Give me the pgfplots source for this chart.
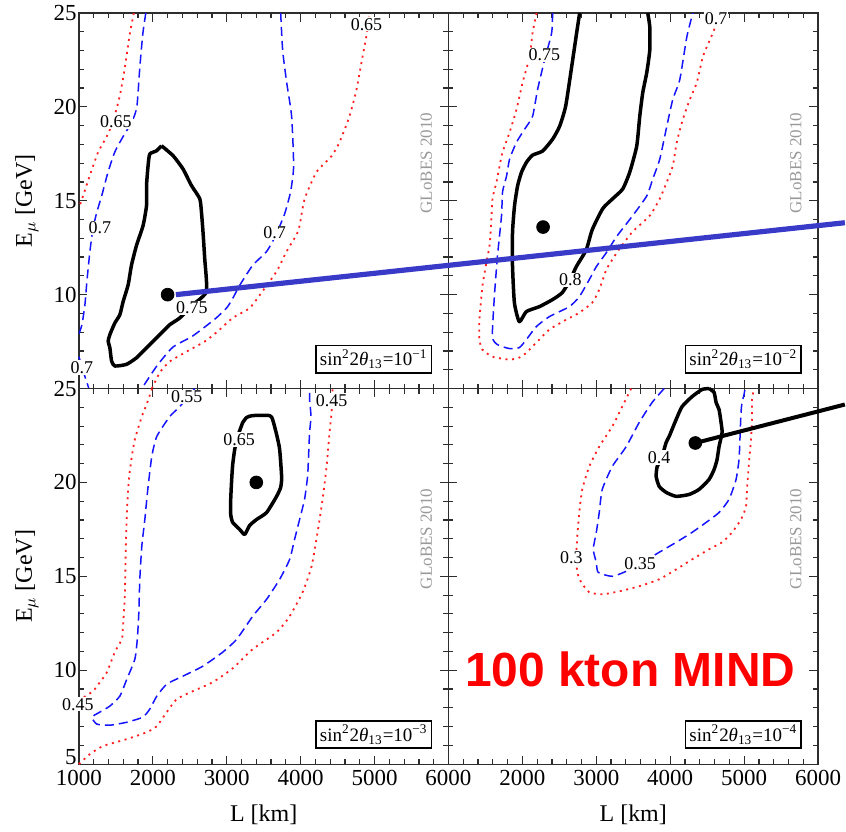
\documentclass[border=0pt]{standalone}
\usepackage{fontspec}
\setmainfont{Liberation Serif}
\setsansfont{Liberation Sans}
\usepackage{pgfplots}
\pgfplotsset{compat=1.18}
\definecolor{annblue}{RGB}{58,58,200}
\definecolor{cblue}{RGB}{20,20,255}
\definecolor{cred}{RGB}{255,30,30}
\definecolor{framecol}{RGB}{45,45,45}
\pgfplotsset{
 panel/.style={
  scale only axis, width=185pt, height=188pt,
  xmin=1000, xmax=6000, ymin=5, ymax=25,
  clip=false,
  xtick={1000,2000,3000,4000,5000,6000},
  minor xtick={1200,1400,...,5800},
  ytick={5,10,15,20,25},
  minor ytick={6,7,...,24},
  tick align=inside, tick pos=both,
  major tick length=4.3pt, minor tick length=2.5pt,
  axis line style={framecol, line width=0.6pt},
  tick style={framecol, line width=0.6pt},
  tick label style={font=\fontsize{11.5}{13}\selectfont},
  xticklabel style={anchor=north, inner sep=0pt, yshift=-3pt},
  yticklabel style={anchor=east, inner sep=0pt, xshift=-1pt},
  xticklabels={}, yticklabels={},
 },
 cblack/.style={black, line width=1.75pt, line join=round, smooth, tension=0.35},
 cbl/.style={cblue, line width=0.75pt, dash pattern=on 4.5pt off 2.5pt, smooth, tension=0.35},
 crd/.style={cred, line width=0.9pt, dash pattern=on 1pt off 2.3pt, smooth, tension=0.35},
 dot/.style={only marks, mark=*, mark size=3.2pt, black},
}
\tikzset{
 clab/.style={fill=white, inner sep=0.5pt, font=\fontsize{9}{10}\selectfont},
 inset/.style={anchor=south east, draw=black, line width=0.9pt, fill=white, inner sep=2pt, font=\fontsize{9.5}{11}\selectfont, xshift=-8pt, yshift=7.5pt},
 globes/.style={rotate=90, text=black!40, font=\fontsize{8.5}{9}\selectfont},
 ylab/.style={rotate=90, anchor=south, inner sep=0pt, font=\fontsize{12}{14}\selectfont},
 xlab/.style={anchor=north, inner sep=0pt, font=\fontsize{12}{14}\selectfont},
}
\begin{document}
\begin{tikzpicture}
% ---------------- top left: sin^2 = 1e-1
\begin{axis}[panel, at={(0,188pt)}, anchor=south west, yticklabels={,10,15,20,25}]
\addplot[crd] coordinates {(1743,25) (1689,23.9) (1622,22.1) (1554,20.6) (1460,19.2) (1374,18.4) (1261,17.6) (1144,16.3) (1059,15.3) (1000,14.6)};
\addplot[crd] coordinates {(1986,5) (2094,5.85) (2229,6.44) (2459,6.97) (2700,7.5) (2865,8.0) (3081,8.76) (3311,9.29) (3486,10.19) (3675,11.24) (3810,12.3) (3946,13.2) (3986,13.68) (4054,15.1) (4215,16.53) (4418,17.38) (4526,18.12) (4661,19.5) (4756,20.93) (4837,22.67) (4891,23.8) (4932,25)};
\addplot[cbl] coordinates {(1905,25) (1865,23.9) (1824,22.1) (1784,20.0) (1716,19.2) (1595,18.4) (1486,17.6) (1392,16.5) (1311,15.3) (1243,14.4) (1189,13.5) (1149,12.3) (1108,10.7) (1081,9.45) (1041,8.4) (1000,7.9)};
\addplot[cbl] coordinates {(1000,6.7) (1060,5.9) (1135,5)};
\addplot[cbl] coordinates {(3730,25) (3757,23.0) (3811,21.3) (3878,19.5) (3905,16.85) (3865,15.5) (3783,14.3) (3662,13.15) (3540,12.3) (3351,11.56) (3176,10.5) (3081,9.8) (3000,9.3) (2840,8.7) (2540,7.8) (2270,7.2) (2054,6.2) (1851,5)};
\addplot[cblack] coordinates {(2117,17.93) (2274,17.40) (2409,16.69) (2523,15.81) (2635,15.11) (2658,14.40) (2679,13.34) (2702,11.93) (2725,10.17) (2545,9.47) (2365,8.76) (2229,8.40) (2139,8.05) (2050,7.70) (1915,7.17) (1780,6.64) (1644,6.29) (1486,6.20) (1442,6.47) (1419,7.17) (1396,7.52) (1419,7.87) (1486,8.49) (1554,8.93) (1599,9.64) (1666,10.52) (1712,11.58) (1780,12.63) (1869,13.69) (1915,14.75) (1915,15.81) (1936,16.87) (1959,17.49) (2050,17.66) (2117,17.93)};
\node[clab] at (axis cs:1500,19.2) {0.65};
\node[clab] at (axis cs:4891,24.4) {0.65};
\node[clab] at (axis cs:1284,13.56) {0.7};
\node[clab] at (axis cs:3648,13.3) {0.7};
\node[clab] at (axis cs:1040,6.12) {0.7};
\node[clab] at (axis cs:2527,9.31) {0.75};
\addplot[dot] coordinates {(2200,10)};
\node[globes] at (rel axis cs:0.94,0.6) {GLoBES 2010};
\node[inset] at (rel axis cs:1,0) {sin\textsuperscript{2}2\textit{θ}\textsubscript{13}=10\textsuperscript{−1}};
\node[ylab] at ([xshift=-20pt]rel axis cs:0,0.5) {E$_\mu$ [GeV]};
\end{axis}
% ---------------- top right: 1e-2
\begin{axis}[panel, at={(185pt,188pt)}, anchor=south west]
\addplot[crd] coordinates {(2192,25) (2138,23.94) (2098,22.67) (2003,21.30) (1921,19.87) (1827,18.65) (1732,17.59) (1691,16.85) (1650,16.0) (1596,15.11) (1575,13.6) (1554,12.55) (1513,11.70) (1459,10.43) (1419,8.67) (1419,7.61) (1459,7.07) (1594,6.70) (1824,6.54) (1959,6.65) (2054,6.91) (2189,7.45) (2365,8.14) (2594,8.67) (2770,9.04) (2945,9.57) (3040,10.27) (3135,11.33) (3216,11.86) (3317,12.46) (3493,13.36) (3724,14.21) (3859,15.11) (3954,16.0) (4035,16.85) (4089,18.12) (4171,19.34) (4266,20.40) (4360,21.30) (4442,22.67) (4537,23.57) (4604,24.21) (4672,25)};
\addplot[cbl] coordinates {(2409,25) (2396,23.94) (2301,22.51) (2206,20.93) (2138,19.50) (2030,18.81) (1921,18.12) (1827,17.22) (1786,16.32) (1732,15.48) (1718,14.21) (1662,12.02) (1621,9.89) (1594,7.77) (1662,7.34) (1824,7.13) (1959,7.18) (2054,7.61) (2189,8.30) (2365,8.83) (2635,9.36) (2770,9.89) (2905,10.80) (3000,11.49) (3135,12.23) (3276,13.1) (3493,14.21) (3683,15.26) (3764,16.16) (3859,17.22) (3954,18.97) (4035,20.40) (4130,21.46) (4225,23.73) (4306,25)};
\addplot[cblack] coordinates {(2775,25) (2734,23.94) (2667,22.14) (2585,20.03) (2504,18.97) (2409,18.28) (2274,17.65) (2138,17.43) (2057,17.06) (1989,16.53) (1935,15.79) (1894,14.74) (1867,13.36) (1865,11.70) (1892,9.57) (1959,8.56) (2054,9.10) (2229,9.36) (2405,9.73) (2540,10.11) (2648,10.8) (2729,11.49) (2864,12.39) (2945,13.46) (3087,14.58) (3222,15.11) (3358,15.63) (3453,16.53) (3547,17.91) (3588,19.50) (3629,20.77) (3683,21.83) (3724,23.04) (3724,24.26) (3696,25)};
\node[clab] at (axis cs:2297,22.77) {0.75};
\node[clab] at (axis cs:4621,24.7) {0.7};
\node[clab] at (axis cs:2648,10.8) {0.8};
\addplot[dot] coordinates {(2280,13.6)};
\node[globes] at (rel axis cs:0.94,0.6) {GLoBES 2010};
\node[inset] at (rel axis cs:1,0) {sin\textsuperscript{2}2\textit{θ}\textsubscript{13}=10\textsuperscript{−2}};
\addplot[annblue, line width=2.6pt] coordinates {(-2688,10.0) (6363,13.83)};
\end{axis}
% ---------------- bottom left: 1e-3
\begin{axis}[panel, at={(0,0)}, anchor=south west, yticklabels={,10,15,20,25}, xticklabels={1000,2000,3000,4000,5000,6000}]
\addplot[crd] coordinates {(1990,25) (1920,24.2) (1851,23.51) (1757,22.29) (1716,21.38) (1676,20.16) (1649,18.40) (1635,16.6) (1621,13.94) (1594,12.18) (1581,11.65) (1486,10.96) (1378,9.89) (1284,9.36) (1189,8.88) (1000,8.4)};
\addplot[crd] coordinates {(1000,5.0) (1149,5.53) (1324,5.96) (1648,6.33) (1919,6.70) (2054,7.02) (2189,7.77) (2324,8.46) (2540,8.88) (2810,9.36) (3081,10.1) (3351,11.12) (3675,12.02) (3851,12.87) (4026,14.15) (4148,15.53) (4229,17.34) (4297,19.10) (4351,20.85) (4391,22.66) (4418,23.72) (4432,25)};
\addplot[cbl] coordinates {(2567,25) (2365,24.04) (2229,23.51) (2054,22.45) (1986,21.38) (1932,19.63) (1892,18.03) (1851,16.6) (1824,14.84) (1811,13.09) (1790,11.65) (1757,10.59) (1648,9.52) (1554,8.62) (1419,8.09) (1284,7.77) (1176,7.5) (1243,7.13) (1419,7.07) (1648,7.23) (1865,7.5) (1959,7.93) (2054,8.62) (2189,9.26) (2405,9.68) (2675,10.21) (2945,10.96) (3135,11.65) (3351,12.87) (3540,13.78) (3716,14.84) (3851,15.90) (3918,16.97) (3986,18.03) (4053,19.10) (4094,20.32) (4107,21.38) (4121,22.66) (4140,23.51) (4121,24.41) (4121,25)};
\addplot[cblack] coordinates {(3216,23.19) (3270,23.46) (3351,23.56) (3580,23.56) (3621,23.35) (3675,22.55) (3716,21.76) (3743,20.27) (3729,19.73) (3675,19.26) (3540,18.40) (3405,18.03) (3310,17.71) (3243,17.23) (3175,17.50) (3081,17.87) (3054,18.30) (3054,19.10) (3067,20.16) (3081,20.96) (3108,21.76) (3148,22.45) (3216,23.19)};
\node[clab] at (axis cs:2459,24.57) {0.55};
\node[clab] at (axis cs:4418,24.36) {0.45};
\node[clab] at (axis cs:986,8.19) {0.45};
\node[clab] at (axis cs:3168,22.29) {0.65};
\addplot[dot] coordinates {(3400,20)};
\node[globes] at (rel axis cs:0.94,0.6) {GLoBES 2010};
\node[inset] at (rel axis cs:1,0) {sin\textsuperscript{2}2\textit{θ}\textsubscript{13}=10\textsuperscript{−3}};
\node[anchor=east, inner sep=0pt, font=\fontsize{11.5}{13}\selectfont] at ([xshift=-1pt,yshift=3.6pt]rel axis cs:0,0) {5};
\node[ylab] at ([xshift=-20pt]rel axis cs:0,0.5) {E$_\mu$ [GeV]};
\node[xlab] at ([yshift=-20pt]rel axis cs:0.5,0) {L [km]};
\end{axis}
% ---------------- bottom right: 1e-4
\begin{axis}[panel, at={(185pt,0)}, anchor=south west, xticklabels={,2000,3000,4000,5000,6000}]
\addplot[crd] coordinates {(3472,25) (3351,24.04) (3216,22.98) (3040,21.91) (2905,20.85) (2810,19.63) (2770,18.40) (2743,17.13) (2729,16.06) (2743,15.21) (2797,14.68) (2905,14.15) (3081,14.04) (3310,14.20) (3580,14.47) (3851,14.84) (4080,15.37) (4296,15.90) (4526,16.44) (4702,16.81) (4837,17.34) (4958,18.03) (5026,18.72) (5039,19.63) (5066,21.06) (5093,22.29) (5107,23.35) (5107,24.41) (5134,25)};
\addplot[cbl] coordinates {(3918,25) (3756,24.26) (3580,23.19) (3405,21.91) (3216,20.85) (3081,19.63) (3040,18.40) (3000,17.34) (2959,16.44) (3000,15.74) (3026,15.21) (3216,15.0) (3405,15.27) (3648,15.80) (3851,16.28) (4080,16.81) (4296,17.34) (4486,17.87) (4661,18.40) (4796,19.10) (4891,20.16) (4931,21.22) (4945,22.45) (4958,23.72) (4972,24.26) (4999,24.68) (5012,25)};
\addplot[cblack] coordinates {(4526,25) (4594,24.79) (4621,24.26) (4661,23.88) (4688,23.19) (4702,22.66) (4661,21.91) (4634,21.22) (4594,20.69) (4526,20.16) (4391,19.63) (4256,19.36) (4080,19.26) (3945,19.47) (3851,19.79) (3810,20.32) (3824,20.85) (3878,21.22) (3945,22.13) (3986,22.45) (4080,23.35) (4161,24.04) (4296,24.57) (4431,24.95) (4526,25)};
\node[clab] at (axis cs:3851,21.33) {0.4};
\node[clab] at (axis cs:3594,15.69) {0.35};
\node[clab] at (axis cs:2662,16.01) {0.3};
\addplot[black, line width=2pt] coordinates {(4340,22.1) (6363,24.15)};
\addplot[dot] coordinates {(4340,22.1)};
\node[globes] at (rel axis cs:0.94,0.6) {GLoBES 2010};
\node[inset] at (rel axis cs:1,0) {sin\textsuperscript{2}2\textit{θ}\textsubscript{13}=10\textsuperscript{−4}};
\node[text=red, font=\fontsize{24}{26}\sffamily\bfseries] at (axis cs:3459,10.05) {100 kton MIND};
\node[xlab] at ([yshift=-20pt]rel axis cs:0.5,0) {L [km]};
\end{axis}
\pgfresetboundingbox
\path[use as bounding box] (-39.5pt,-33.5pt) rectangle (384pt,382.5pt);
\end{tikzpicture}
\end{document}
